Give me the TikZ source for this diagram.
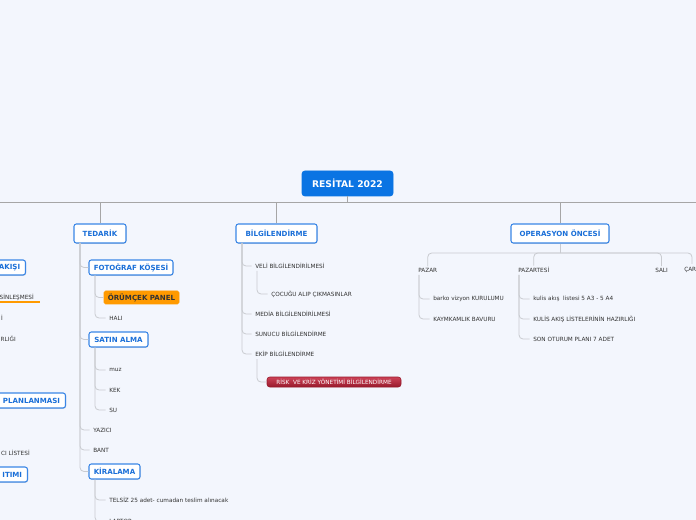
\documentclass[tikz,border=0pt]{standalone}
\usepackage{fontspec}
\setmainfont{DejaVu Sans}
\usetikzlibrary{shadows}
\definecolor{bg}{HTML}{F3F6FD}
\definecolor{boxb}{HTML}{3A86E6}
\definecolor{boxt}{HTML}{1A6FD8}
\definecolor{rootf}{HTML}{0A74E3}
\definecolor{mainl}{HTML}{A6A6A6}
\definecolor{treel}{HTML}{C9CBD0}
\definecolor{leaft}{HTML}{333333}
\definecolor{orng}{HTML}{FF9A00}
\definecolor{redt}{HTML}{CC4257}
\definecolor{redb}{HTML}{981A2C}
\begin{document}
\begin{tikzpicture}[x=0.75pt,y=-0.75pt,
  rootbox/.style={fill=rootf, draw=rootf, rounded corners=2pt, text=white,
    font=\bfseries\fontsize{6.9}{8}\selectfont, inner sep=0pt,
    minimum width=68.25pt, minimum height=18.75pt},
  topicbox/.style={draw=boxb, fill=white, rounded corners=1.8pt, line width=0.8pt,
    text=boxt, font=\bfseries\fontsize{5.3}{6.2}\selectfont, inner sep=0pt,
    drop shadow={shadow xshift=0.4pt, shadow yshift=-0.6pt, opacity=0.25}},
  orangebox/.style={fill=orng, draw=orng, rounded corners=1.2pt, text=leaft,
    font=\bfseries\fontsize{5.3}{6.2}\selectfont, inner sep=0pt,
    minimum width=56.25pt, minimum height=9.75pt},
  redbox/.style={top color=redt, bottom color=redb, draw=redb, rounded corners=2pt,
    text=white, font=\fontsize{4.3}{5}\selectfont, inner sep=0pt,
    minimum width=100.5pt, minimum height=7.5pt},
  leaf/.style={font=\fontsize{4.3}{5}\selectfont, text=leaft, anchor=west,
    inner xsep=2.5pt, inner ysep=1pt},
  leafr/.style={leaf, anchor=east},
  mainline/.style={draw=mainl, line width=0.7pt, rounded corners=3pt},
  conn/.style={draw=treel, line width=0.6pt, rounded corners=3pt}]
\useasboundingbox (0,0) rectangle (696,520);
\fill[bg] (0,0) rectangle (696,520);
\begin{scope}
\clip (0,0) rectangle (696,520);
% root and main line
\node[rootbox] (root) at (347.5,183.5) {RESİTAL 2022};
\coordinate (ML) at (0,202);
\coordinate (MR) at (696,202);
\draw[mainline] (ML) -- (MR);
\draw[mainline] (root.south) -- (root.south |- ML);
% level one
\node[topicbox, minimum width=39pt, minimum height=14.25pt] (ted) at (100,233.5) {TEDARİK};
\node[topicbox, minimum width=60.75pt, minimum height=14.25pt] (bil) at (276.5,233.5) {BİLGİLENDİRME};
\node[topicbox, minimum width=73.5pt, minimum height=14.25pt] (op) at (560,233.5) {OPERASYON ÖNCESİ};
\draw[mainline] (ted.north) -- (ted.north |- ML);
\draw[mainline] (bil.north) -- (bil.north |- ML);
\draw[mainline] (op.north) -- (op.north |- ML);
% left partial branches
\node[topicbox, anchor=east, text width=50pt, align=right, inner xsep=4pt, minimum height=11.25pt] (akis) at (26,267.5) {AKIŞI};
\node[leafr] (sin) at (37.3,297) {SİNLEŞMESİ};
\draw[orng, line width=1.5pt] (-10,302.5) -- (40,302.5);
\node[leafr] (li) at (6.3,318) {İ};
\node[leafr] (rli) at (19.3,339) {RLIĞI};
\node[topicbox, anchor=east, text width=70pt, align=right, inner xsep=4pt, minimum height=11.25pt] (plan) at (66,400.5) {I PLANLANMASI};
\node[leafr] (cil) at (33.3,453) {CI LİSTESİ};
\node[topicbox, anchor=east, text width=50pt, align=right, inner xsep=4pt, minimum height=11.25pt] (itimi) at (28,474.5) {ITIMI};
% TEDARIK branch
\coordinate (tt) at (80,243);
\node[topicbox, minimum width=63pt, minimum height=11.25pt] (foto) at (131,267.5) {FOTOĞRAF KÖŞESİ};
\node[topicbox, minimum width=44.25pt, minimum height=11.25pt] (satin) at (118.5,339.5) {SATIN ALMA};
\node[leaf] (yazici) at (89.7,430) {YAZICI};
\node[leaf] (bant) at (89.7,450) {BANT};
\node[topicbox, minimum width=38.25pt, minimum height=11.25pt] (kira) at (114.5,471.5) {KİRALAMA};
\draw[conn] (tt) |- (foto.west);
\draw[conn] (tt) |- (satin.west);
\draw[conn] (tt) |- (yazici.west);
\draw[conn] (tt) |- (bant.west);
\draw[conn] (tt) |- (kira.west);
\coordinate (ft) at (95,275.5);
\node[orangebox] (orum) at (141.5,297.5) {ÖRÜMÇEK PANEL};
\node[leaf] (hali) at (105.7,318) {HALI};
\draw[conn] (ft) |- (orum.west);
\draw[conn] (ft) |- (hali.west);
\coordinate (st) at (95,347.5);
\node[leaf] (muz) at (105.7,370) {muz};
\node[leaf] (kek) at (105.7,390) {KEK};
\node[leaf] (su) at (105.7,410) {SU};
\draw[conn] (st) |- (muz.west);
\draw[conn] (st) |- (kek.west);
\draw[conn] (st) |- (su.west);
\coordinate (kt) at (95,479.5);
\node[leaf] (telsiz) at (105.7,500) {TELSİZ 25 adet- cumadan teslim alınacak};
\node[leaf] (laptop) at (105.7,521.5) {LAPTOP};
\draw[conn] (kt) |- (telsiz.west);
\draw[conn] (kt) |- (laptop.west);
% BILGILENDIRME branch
\coordinate (bt) at (242,243);
\node[leaf] (veli) at (251.7,266) {VELİ BİLGİLENDİRİLMESİ};
\node[leaf] (media) at (251.7,314) {MEDİA BİLGİLENDİRİLMESİ};
\node[leaf] (sunucu) at (251.7,334) {SUNUCU BİLGİLENDİRME};
\node[leaf] (ekip) at (251.7,354) {EKİP BİLGİLENDİRME};
\draw[conn] (bt) |- (veli.west);
\draw[conn] (bt) |- (media.west);
\draw[conn] (bt) |- (sunucu.west);
\draw[conn] (bt) |- (ekip.west);
\coordinate (vt) at (257,271);
\node[leaf] (cocugu) at (267.7,294) {ÇOCUĞU ALIP ÇIKMASINLAR};
\draw[conn] (vt) |- (cocugu.west);
\coordinate (et) at (257,359);
\node[redbox] (risk) at (334,382) {RİSK~~VE KRİZ YÖNETİMİ BİLGİLENDİRME};
\draw[conn] (et) |- (risk.west);
% OPERASYON ONCESI branch
\coordinate (ob) at (560,253);
\node[leaf] (pazar) at (414.7,270) {PAZAR};
\node[leaf] (pzt) at (514.7,270) {PAZARTESİ};
\node[leaf] (sali) at (651.7,270) {SALI};
\node[leaf] (car) at (680.7,270) {ÇARŞAMBA};
\coordinate (carend) at (692,264);
\draw[conn] (op.south) -- (ob);
\draw[conn] (ob) -| (pazar.north);
\draw[conn] (ob) -| (pzt.north);
\draw[conn] (ob) -| (sali.north);
\draw[conn] (ob) -| (carend);
\coordinate (pt) at (419,275);
\node[leaf] (barko) at (429.7,299) {barko vizyon KURULUMU};
\node[leaf] (kaym) at (429.7,319) {KAYMKAMLIK BAVURU};
\draw[conn] (pt) |- (barko.west);
\draw[conn] (pt) |- (kaym.west);
\coordinate (ptt) at (519,275);
\node[leaf] (kulis) at (529.7,299) {kulis akış~ listesi 5 A3 - 5 A4};
\node[leaf] (kulis2) at (529.7,319) {KULİS AKIŞ LİSTELERİNİN HAZIRLIĞI};
\node[leaf] (son) at (529.7,339) {SON OTURUM PLANI 7 ADET};
\draw[conn] (ptt) |- (kulis.west);
\draw[conn] (ptt) |- (kulis2.west);
\draw[conn] (ptt) |- (son.west);
\end{scope}
\end{tikzpicture}
\end{document}
